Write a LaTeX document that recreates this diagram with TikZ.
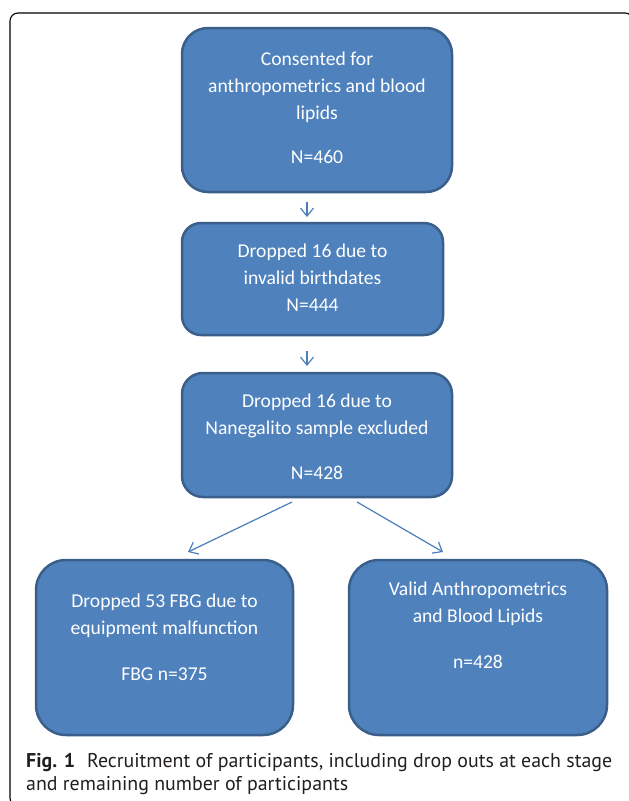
\documentclass[tikz,border=0pt]{standalone}
\usepackage{fontspec}
\setmainfont{Carlito}
\newfontfamily\capfont{PT Sans}
\usetikzlibrary{arrows.meta}
\definecolor{boxfill}{HTML}{4F81BD}
\definecolor{boxborder}{HTML}{3A5F8B}
\definecolor{arrowblue}{HTML}{4A7EBB}
\definecolor{captext}{HTML}{231F20}
\tikzset{
  box/.style={draw=boxborder, line width=2.5pt, fill=boxfill, inner sep=0pt},
  boxtext/.style={text=white, align=center, anchor=north, inner sep=0pt,
    font=\fontsize{19.6}{27}\selectfont},
  arr/.style={draw=arrowblue, line width=1.2pt, -{Straight Barb[length=8pt,width=13pt]}},
  captxt/.style={text=captext, anchor=base west, inner sep=0pt,
    font=\capfont\fontsize{19.9}{23}\selectfont}
}
\newcommand{\firstline}{\rule{0pt}{15pt}}
\begin{document}
\begin{tikzpicture}[x=1pt,y=-1pt]
\useasboundingbox (0,0) rectangle (629,801);
\clip (0,0) rectangle (629,801);
\fill[white] (0,0) rectangle (629,801);
% frame
\draw[black, line width=1.1pt, rounded corners=8pt] (633,30) -- (633,13) -- (10,13) -- (10,806) -- (30,806);
% boxes
\node[box, rounded corners=26pt, minimum width=270pt, minimum height=164pt] (b1) at (317,110) {};
\node[box, rounded corners=19pt, minimum width=261pt, minimum height=112pt] (b2) at (312.5,279) {};
\node[box, rounded corners=21pt, minimum width=270pt, minimum height=124pt] (b3) at (317,435) {};
\node[box, rounded corners=30pt, minimum width=257pt, minimum height=175pt] (b4) at (164.5,647.5) {};
\node[box, rounded corners=30pt, minimum width=258pt, minimum height=175pt] (b5) at (478,647.5) {};
% texts
\node[boxtext] (t1) at (317,50.5) {\firstline Consented for\\anthropometrics and blood\\lipids\\[17pt]N=460};
\node[boxtext] (t2) at (312.5,242) {\firstline Dropped 16 due to\\invalid birthdates\\N=444};
\node[boxtext] (t3) at (317,392) {\firstline Dropped 16 due to\\Nanegalito sample excluded\\[18pt]N=428};
\node[boxtext] (t4) at (164.5,592) {\firstline Dropped 53 FBG due to\\equipment malfunction\\[19pt]FBG n=375};
\node[boxtext] (t5) at (478,580) {\firstline Valid Anthropometrics\\and Blood Lipids\\[19pt]n=428};
% connector ends
\coordinate (a1s) at (307,202);
\coordinate (a1e) at (307,217);
\coordinate (a2s) at (307,351);
\coordinate (a2e) at (307,366);
\coordinate (a3s) at (292,502);
\coordinate (a3e) at (188,552);
\coordinate (a4s) at (357,502);
\coordinate (a4e) at (443,552);
\draw[arr] (a1s) -- (a1e);
\draw[arr] (a2s) -- (a2e);
\draw[arr] (a3s) -- (a3e);
\draw[arr] (a4s) -- (a4e);
% caption
\node[captxt] (cap1) at (26,767) {\textbf{Fig. 1}\hspace{0.6em}Recruitment of participants, including drop outs at each stage};
\node[captxt] (cap2) at (26,790) {and remaining number of participants};
\end{tikzpicture}
\end{document}
